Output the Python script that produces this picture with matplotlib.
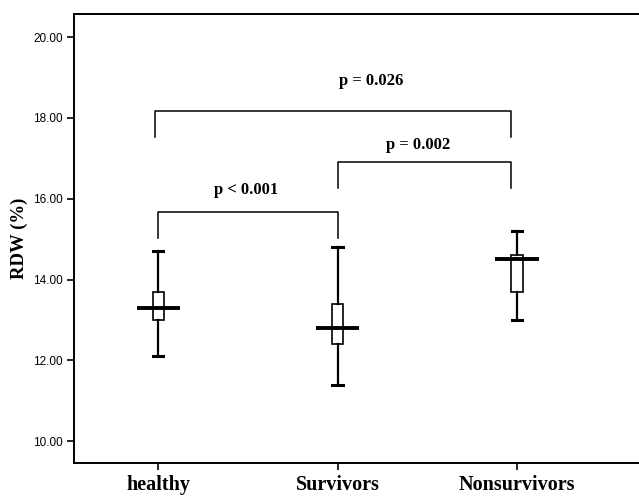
import matplotlib
matplotlib.use("Agg")
from matplotlib import pyplot as plt

groups = ["healthy", "Survivors", "Nonsurvivors"]
whisker_low = [12.1, 11.4, 13.0]
box_low = [13.0, 12.4, 13.7]
medians = [13.3, 12.8, 14.5]
box_high = [13.7, 13.4, 14.6]
whisker_high = [14.7, 14.8, 15.2]

# brackets: left group, right group, bar height, leg bottom, label, label x, label y
brackets = [
    (0, 2, 18.18, 17.52, "p = 0.026", 2.19, 18.9),
    (1, 2, 16.91, 16.26, "p = 0.002", 2.45, 17.33),
    (0, 1, 15.68, 15.02, "p < 0.001", 1.49, 16.21),
]
yticks = [10, 12, 14, 16, 18, 20]

fig = plt.figure(figsize=(6.39, 4.98), dpi=100)
ax = fig.add_axes([0.116, 0.0703, 0.884, 0.9016])

positions = [1, 2, 3]
stats = []
for i, g in enumerate(groups):
    stats.append({"label": g, "whislo": whisker_low[i], "q1": box_low[i],
                  "med": medians[i], "q3": box_high[i], "whishi": whisker_high[i],
                  "fliers": []})

ax.bxp(stats, positions=positions, widths=0.062, capwidths=0.058,
       showfliers=False, patch_artist=True,
       boxprops=dict(facecolor="white", edgecolor="black", linewidth=1.2),
       whiskerprops=dict(color="black", linewidth=1.6),
       capprops=dict(color="black", linewidth=2.2),
       medianprops=dict(linewidth=0))
# SPSS style: median drawn as a wide bar across the box
ax.hlines(medians, [p - 0.12 for p in positions], [p + 0.12 for p in positions],
          colors="black", linewidth=2.8, zorder=5)

for left, right, h, low, label, tx, ty in brackets:
    x0 = positions[left] - (0.02 if right == 2 and left == 0 else 0.0)
    x1 = positions[right] - (0.033 if right == 2 else 0.0)
    ax.plot([x0, x0, x1, x1], [low, h, h, low], color="black", linewidth=1.1)
    ax.text(tx, ty, label, ha="center", va="center", fontsize=12,
            fontweight="bold", family="Liberation Serif")

ax.set_xlim(0.532, 3.68)
ax.set_ylim(9.46, 20.57)
ax.set_yticks(yticks)
ax.set_yticklabels([f"{v:.2f}" for v in yticks], fontsize=8.5, family="Liberation Sans")
ax.set_xticks(positions)
ax.set_xticklabels(groups, fontsize=14.5, fontweight="bold", family="Liberation Serif")
ax.tick_params(axis="x", length=5, width=1.2, pad=4)
ax.tick_params(axis="y", length=5, width=1.2, pad=3)
ax.set_ylabel("RDW (%)", fontsize=13.5, fontweight="bold", family="Liberation Serif", labelpad=4)

ax.spines["right"].set_visible(False)
for s in ["left", "top", "bottom"]:
    ax.spines[s].set_linewidth(1.4)

fig.savefig("out.png", dpi=100)
